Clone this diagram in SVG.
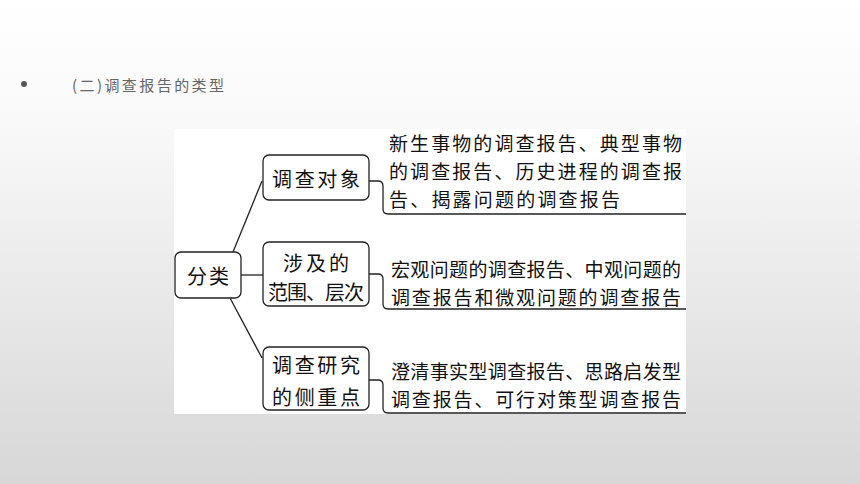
<svg xmlns="http://www.w3.org/2000/svg" width="860" height="484" viewBox="0 0 860 484">
<defs>
<linearGradient id="bg" x1="0" y1="0" x2="0" y2="1">
<stop offset="0" stop-color="#ffffff"/>
<stop offset="0.25" stop-color="#f9f9f9"/>
<stop offset="1" stop-color="#d7d7d7"/>
</linearGradient>
</defs>
<style>
.box{fill:#fff;stroke:#222;stroke-width:1.3}
.ln{fill:none;stroke:#222;stroke-width:1.3}
.t{font-family:"Noto Sans CJK SC","Noto Sans CJK JP",sans-serif;font-size:20px;fill:#111;dominant-baseline:central}
.d{font-family:"Noto Sans CJK SC","Noto Sans CJK JP",sans-serif;font-size:19px;fill:#111;dominant-baseline:central}
.c{text-anchor:middle}
.h{font-family:"Noto Sans CJK SC","Noto Sans CJK JP",sans-serif;font-size:15px;fill:#666;dominant-baseline:central}
</style>
<rect width="860" height="484" fill="url(#bg)"/>
<circle cx="24" cy="84" r="3" fill="#555"/>
<text class="h" x="72" y="84" textLength="152" lengthAdjust="spacing">(二)调查报告的类型</text>
<rect x="174" y="129" width="512" height="285" fill="#fff"/>
<g id="connectors">
<path class="ln" d="M233,252 L262,181"/>
<path class="ln" d="M241,275 H263"/>
<path class="ln" d="M230,298 L262,358"/>
<path class="ln" d="M369,181 H378 Q383,181 383,186 V209 Q383,214 388,214 H686"/>
<path class="ln" d="M369,274 H378 Q383,274 383,279 V304 Q383,309 388,309 H686"/>
<path class="ln" d="M369,380 H378 Q383,380 383,385 V408 Q383,413 388,413 H686"/>
</g>
<g id="n-root">
<rect class="box" x="175" y="252" width="66" height="46" rx="6"/>
<text class="t c" x="208" y="275" textLength="42" lengthAdjust="spacing">分类</text>
</g>
<g id="n-obj">
<rect class="box" x="263" y="155" width="106" height="45" rx="6"/>
<text class="t c" x="316" y="178" textLength="88" lengthAdjust="spacing">调查对象</text>
</g>
<g id="n-scope">
<rect class="box" x="263" y="242" width="106" height="64" rx="6"/>
<text class="t c" x="316" y="262" textLength="66" lengthAdjust="spacing">涉及的</text>
<text class="t c" x="316" y="291" textLength="96" lengthAdjust="spacing">范围、层次</text>
</g>
<g id="n-focus">
<rect class="box" x="263" y="347" width="106" height="63" rx="6"/>
<text class="t c" x="316" y="364" textLength="88" lengthAdjust="spacing">调查研究</text>
<text class="t c" x="316" y="396" textLength="88" lengthAdjust="spacing">的侧重点</text>
</g>
<g id="d-obj">
<text class="d" x="389" y="142" textLength="293" lengthAdjust="spacing">新生事物的调查报告、典型事物</text>
<text class="d" x="389" y="170" textLength="293" lengthAdjust="spacing">的调查报告、历史进程的调查报</text>
<text class="d" x="389" y="198" textLength="231" lengthAdjust="spacing">告、揭露问题的调查报告</text>
</g>
<g id="d-scope">
<text class="d" x="391" y="268" textLength="290" lengthAdjust="spacing">宏观问题的调查报告、中观问题的</text>
<text class="d" x="391" y="296" textLength="290" lengthAdjust="spacing">调查报告和微观问题的调查报告</text>
</g>
<g id="d-focus">
<text class="d" x="391" y="370" textLength="290" lengthAdjust="spacing">澄清事实型调查报告、思路启发型</text>
<text class="d" x="391" y="398" textLength="290" lengthAdjust="spacing">调查报告、可行对策型调查报告</text>
</g>
</svg>
